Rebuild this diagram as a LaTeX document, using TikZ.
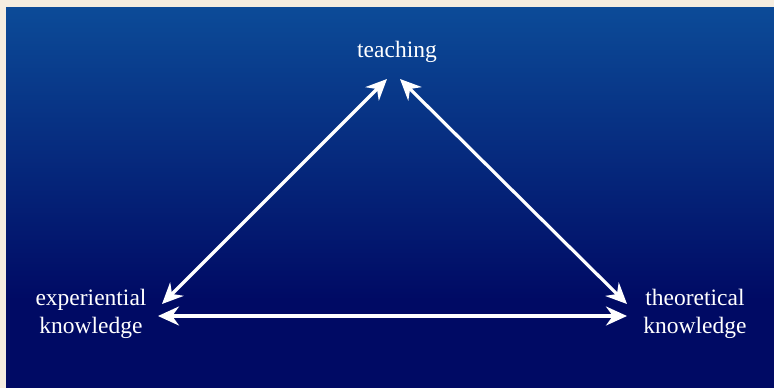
\documentclass[tikz,border=0pt]{standalone}
\usepackage{fontspec}
\setmainfont{Liberation Serif}
\usetikzlibrary{arrows.meta}
\definecolor{cream}{HTML}{F5EDE0}
\definecolor{topblue}{HTML}{0C4B98}
\definecolor{navy}{HTML}{000A64}
\tikzset{
  lbl/.style={text=white, font=\fontsize{23.5}{28}\selectfont, align=center, inner sep=0pt},
  link/.style={draw=white, line width=3.2pt, {Stealth[length=21pt,width=19pt]}-{Stealth[length=21pt,width=19pt]}}
}
\begin{document}
\begin{tikzpicture}[x=1pt,y=-1pt]
\useasboundingbox (0,0) rectangle (774,388);
\fill[cream] (0,0) rectangle (774,388);
\fill[top color=topblue, bottom color=navy, draw=none] (6,7) rectangle (774,300);
\fill[navy] (6,299.5) rectangle (774,388);
\node[lbl, anchor=base] (teach) at (397,57) {teaching};
\node[lbl, anchor=base] (exp) at (91,333) {experiential\\knowledge};
\node[lbl, anchor=base] (theo) at (695,333) {theoretical\\knowledge};
\coordinate (tL) at (387,79);
\coordinate (tR) at (400,79);
\coordinate (eU) at (162,304);
\coordinate (eR) at (158,316);
\coordinate (oU) at (627,304);
\coordinate (oL) at (627,316);
\draw[link] (eU) -- (tL);
\draw[link] (tR) -- (oU);
\draw[link] (eR) -- (oL);
\end{tikzpicture}
\end{document}
